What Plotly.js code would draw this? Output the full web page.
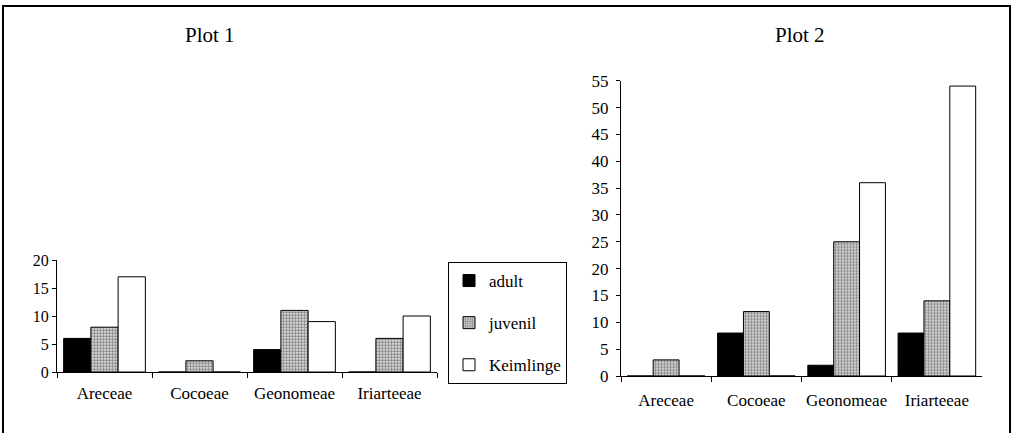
<!DOCTYPE html>
<html><head><meta charset="utf-8">
<script src="https://cdn.plot.ly/plotly-3.0.1.min.js"></script>
<style>html,body{margin:0;padding:0;background:#fff}</style>
</head><body><div id="chart" style="width:1013px;height:433px"></div>
<script>
const categories = ["Areceae", "Cocoeae", "Geonomeae", "Iriarteeae"];
const seriesNames = ["adult", "juvenil", "Keimlinge"];
const plot1_adult = [6, 0, 4, 0];
const plot1_juvenil = [8, 2, 11, 6];
const plot1_keimlinge = [17, 0, 9, 10];
const plot2_adult = [0, 8, 2, 8];
const plot2_juvenil = [3, 12, 25, 14];
const plot2_keimlinge = [0, 0, 36, 54];
const plot1_yticks = [0, 5, 10, 15, 20];
const plot2_yticks = [0, 5, 10, 15, 20, 25, 30, 35, 40, 45, 50, 55];

const W = 1013, H = 433;
const px = v => v / W, py = v => 1 - v / H;
const FONT = "Liberation Serif, Times New Roman, serif";

const styles = [
  {color: "#000000", line: {color: "#000", width: 1}},
  {color: "#ffffff", line: {color: "#000", width: 1},
   pattern: {shape: ".", size: 3, solidity: 0.7, fgcolor: "#222", bgcolor: "#fff", fillmode: "overlay"}},
  {color: "#ffffff", line: {color: "#000", width: 1}}
];

const p1 = [plot1_adult, plot1_juvenil, plot1_keimlinge];
const p2 = [plot2_adult, plot2_juvenil, plot2_keimlinge];
const traces = [];
p1.forEach((vals, i) => traces.push({
  type: "bar", x: categories, y: vals, name: seriesNames[i], marker: styles[i],
  xaxis: "x", yaxis: "y", legendgroup: "g" + i, showlegend: true, hoverinfo: "x+y+name"
}));
p2.forEach((vals, i) => traces.push({
  type: "bar", x: categories, y: vals, name: seriesNames[i], marker: styles[i],
  xaxis: "x2", yaxis: "y2", legendgroup: "g" + i, showlegend: false, hoverinfo: "x+y+name"
}));

const xBase = {
  type: "category", range: [-0.5, 3.5], showline: true, linecolor: "#000", linewidth: 1,
  ticks: "outside", tickson: "boundaries", ticklen: 5, tickcolor: "#000",
  showgrid: false, zeroline: false, fixedrange: true,
  tickfont: {family: FONT, size: 17, color: "#000"}
};
const yBase = {
  showline: true, linecolor: "#000", linewidth: 1, ticks: "outside", ticklen: 4,
  tickcolor: "#000", showgrid: false, zeroline: false, fixedrange: true,
  tickmode: "array"
};

const layout = {
  width: W, height: H, margin: {l: 0, r: 0, t: 0, b: 0},
  paper_bgcolor: "#fff", plot_bgcolor: "rgba(0,0,0,0)",
  barmode: "group", bargap: 0.14, bargroupgap: 0,
  font: {family: FONT, color: "#000"},
  xaxis: Object.assign({}, xBase, {domain: [px(57), px(437)], anchor: "y", ticklabelstandoff: 6}),
  yaxis: Object.assign({}, yBase, {domain: [py(372), py(260)], range: [0, 20], anchor: "x",
    tickvals: plot1_yticks, ticktext: plot1_yticks.map(String),
    tickfont: {family: FONT, size: 16, color: "#000"}}),
  xaxis2: Object.assign({}, xBase, {domain: [px(621), px(982)], anchor: "y2", ticklabelstandoff: 9}),
  yaxis2: Object.assign({}, yBase, {domain: [py(376), py(80.7)], range: [0, 55], anchor: "x2",
    tickvals: plot2_yticks, ticktext: plot2_yticks.map(String), ticklabelstandoff: 4,
    tickfont: {family: FONT, size: 17, color: "#000"}}),
  showlegend: true,
  legend: {
    x: px(448), y: py(262), xanchor: "left", yanchor: "top",
    bordercolor: "#000", borderwidth: 1, bgcolor: "#fff",
    font: {family: FONT, size: 17, color: "#000"},
    traceorder: "grouped", tracegroupgap: 17, entrywidth: 90, itemclick: false
  },
  annotations: [
    {text: "Plot 1", x: px(210), y: py(35), xref: "paper", yref: "paper", showarrow: false,
     xanchor: "center", yanchor: "middle", font: {family: FONT, size: 21, color: "#000"}},
    {text: "Plot 2", x: px(800), y: py(35), xref: "paper", yref: "paper", showarrow: false,
     xanchor: "center", yanchor: "middle", font: {family: FONT, size: 21, color: "#000"}}
  ],
  shapes: [
    {type: "rect", xref: "paper", yref: "paper", x0: px(3), x1: px(1010), y0: -0.1, y1: py(6),
     line: {color: "#000", width: 2}, fillcolor: "rgba(0,0,0,0)", layer: "below"}
  ]
};

Plotly.newPlot("chart", traces, layout, {displayModeBar: false, staticPlot: true});
</script></body></html>
